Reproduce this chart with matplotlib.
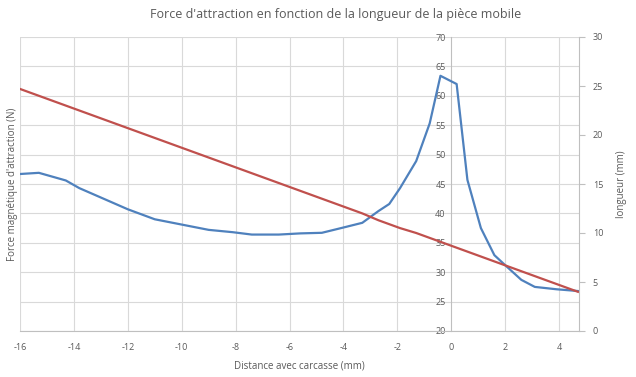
import matplotlib.pyplot as plt
import numpy as np

plt.rcParams["font.family"] = ["Open Sans", "DejaVu Sans"]
plt.rcParams["axes.unicode_minus"] = False

# distance avec carcasse (mm)
distance = [-16.0, -15.3, -14.3, -13.8, -13.0, -12.0, -11.0, -10.0, -9.0, -8.1,
            -7.4, -6.4, -5.6, -4.8, -4.0, -3.3, -2.7, -2.3, -1.9, -1.3,
            -0.8, -0.4, 0.2, 0.6, 1.1, 1.6, 2.0, 2.6, 3.1, 3.9, 4.7]
# force magnetique (N)
force = [46.7, 46.9, 45.6, 44.3, 42.7, 40.7, 39.0, 38.1, 37.2, 36.8,
         36.4, 36.4, 36.6, 36.7, 37.6, 38.4, 40.4, 41.6, 44.3, 48.9,
         55.3, 63.4, 62.0, 45.7, 37.5, 32.9, 31.2, 28.7, 27.5, 27.1, 26.8]
# longueur (mm)
longueur = [24.7, 24.0, 23.0, 22.5, 21.7, 20.7, 19.7, 18.7, 17.7, 16.8,
            16.1, 15.1, 14.3, 13.5, 12.7, 12.0, 11.3, 10.9, 10.5, 10.0,
            9.5, 9.1, 8.5, 8.1, 7.6, 7.1, 6.7, 6.1, 5.6, 4.8, 4.0]

x_ticks = [-16, -14, -12, -10, -8, -6, -4, -2, 0, 2, 4]

grid_col = "#d9d9d9"
axis_col = "#bfbfbf"
text_col = "#595959"

fig = plt.figure(figsize=(6.36, 3.77), dpi=100)
ax = fig.add_axes([20 / 636, 1 - 331 / 377, 559 / 636, 294 / 377])

ax.plot(distance, force, color="#4F81BD", lw=1.6, zorder=3)
ax.set_xlim(-16, 4.74)
ax.set_ylim(20, 70)
ax.set_xticks(x_ticks)
ax.set_yticks(np.arange(20, 71, 5))

for y in np.arange(20, 71, 5):
    ax.axhline(y, color=grid_col, lw=0.8, zorder=0)
for x in x_ticks:
    if x != 0:
        ax.axvline(x, color=grid_col, lw=0.8, zorder=0)

for s in ["top", "right"]:
    ax.spines[s].set_visible(False)
ax.spines["left"].set_position(("data", 0))
ax.spines["left"].set_color(axis_col)
ax.spines["bottom"].set_color(axis_col)
ax.tick_params(axis="both", length=0, labelsize=6.5, colors=text_col)
ax.tick_params(axis="x", pad=9)
ax.tick_params(axis="y", pad=4)

ax.set_xlabel("Distance avec carcasse (mm)", fontsize=7, color=text_col, labelpad=6)
ax.set_ylabel("Force magnétique d'attraction (N)", fontsize=7, color=text_col)
ax.yaxis.set_label_coords(-0.003, 0.5)

ax2 = ax.twinx()
ax2.plot(distance, longueur, color="#C0504D", lw=1.6, zorder=3)
ax2.set_ylim(0, 30)
ax2.set_yticks(np.arange(0, 31, 5))
for s in ["top", "left", "bottom"]:
    ax2.spines[s].set_visible(False)
ax2.spines["right"].set_color(axis_col)
ax2.tick_params(axis="y", length=4, width=0.8, color=axis_col, labelsize=6.5,
                colors=text_col, pad=6)
ax2.tick_params(axis="y", color=axis_col)
ax2.set_ylabel("longueur (mm)", fontsize=7, color=text_col, labelpad=9)

fig.suptitle("Force d'attraction en fonction de la longueur de la pièce mobile",
             x=0.527, y=0.98, fontsize=9, color=text_col)

fig.savefig("out.png", dpi=100)
